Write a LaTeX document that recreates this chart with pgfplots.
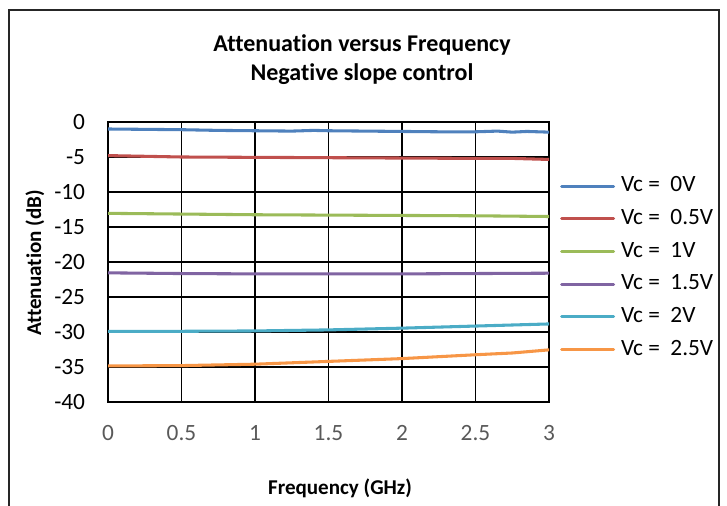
\documentclass[border=0pt]{standalone}
\usepackage{fontspec}
\setmainfont[Ligatures=NoCommon]{Carlito}
\usepackage{pgfplots}
\pgfplotsset{compat=1.18}

\definecolor{cBlue}{HTML}{4F81BD}
\definecolor{cRed}{HTML}{C0504D}
\definecolor{cGreen}{HTML}{9BBB59}
\definecolor{cPurple}{HTML}{8064A2}
\definecolor{cAqua}{HTML}{4BACC6}
\definecolor{cOrange}{HTML}{F79646}
\definecolor{tickgray}{HTML}{595959}

\pgfplotsset{
    excel/.style={
        line width=2.3pt, line join=round, line cap=round, mark=none
    }
}

\begin{document}
\begin{tikzpicture}
\useasboundingbox (0,0) rectangle (545.25pt,379.5pt);
% outer chart frame (bottom edge falls off the picture)
\draw[line width=1pt, black!85] (6.75pt,-2pt) -- (6.75pt,372pt) -- (539.25pt,372pt) -- (539.25pt,-2pt);

\begin{axis}[
    at={(81pt,78pt)}, anchor=south west,
    scale only axis, width=330.75pt, height=210pt,
    xmin=0, xmax=3, ymin=-40, ymax=0,
    xtick={0,0.5,...,3}, ytick={-40,-35,...,0},
    grid=major,
    major grid style={black, line width=1.3pt},
    axis line style={black, line width=1.4pt},
    major tick length=0pt,
    /pgf/number format/assume math mode=true,
    xticklabel style={font=\fontsize{17.5}{19}\selectfont, text=tickgray, anchor=center, yshift=-23.5pt},
    yticklabel style={font=\fontsize{17.5}{19}\selectfont, anchor=east, inner sep=0pt, xshift=-17pt},
    legend cell align=left,
    legend style={
        at={(1.025,0.808)}, anchor=north west,
        draw=none, fill=none, inner sep=0pt, outer sep=0pt,
        font=\fontsize{17.5}{19}\selectfont,
        row sep=9pt,
        nodes={inner xsep=0pt, inner ysep=0pt, text height=12pt, text depth=3.5pt},
        /tikz/every odd column/.style={column sep=4.5pt},
    },
    legend image code/.code={\draw[#1, line cap=round] (0pt,0pt) -- (39pt,0pt);},
]
\addplot[excel, cBlue] coordinates {
    (0,-1.0) (0.25,-1.05) (0.5,-1.1) (0.75,-1.2) (1,-1.25) (1.25,-1.3) (1.4,-1.2)
    (1.5,-1.25) (1.75,-1.3) (2,-1.35) (2.25,-1.4) (2.5,-1.4) (2.65,-1.3)
    (2.75,-1.45) (2.85,-1.35) (3,-1.45)};
\addplot[excel, cRed] coordinates {
    (0,-4.8) (0.5,-5.0) (1,-5.05) (1.5,-5.1) (2,-5.15) (2.5,-5.2) (2.75,-5.2) (3,-5.35)};
\addplot[excel, cGreen] coordinates {
    (0,-13.05) (0.5,-13.15) (1,-13.25) (1.5,-13.3) (2,-13.35) (2.5,-13.4) (3,-13.5)};
\addplot[excel, cPurple] coordinates {
    (0,-21.55) (0.5,-21.65) (1,-21.7) (1.5,-21.7) (2,-21.7) (2.5,-21.65) (3,-21.6)};
\addplot[excel, cAqua] coordinates {
    (0,-29.9) (0.5,-29.9) (1,-29.85) (1.5,-29.7) (2,-29.45) (2.5,-29.15) (3,-28.85)};
\addplot[excel, cOrange] coordinates {
    (0,-34.85) (0.5,-34.8) (1,-34.6) (1.5,-34.2) (2,-33.8) (2.5,-33.25) (2.75,-33.0) (3,-32.55)};
\legend{Vc =\ \ 0V, Vc =\ \ 0.5V, Vc =\ \ 1V, Vc =\ \ 1.5V, Vc =\ \ 2V, Vc =\ \ 2.5V}
\end{axis}

\node[anchor=base, font=\bfseries\fontsize{18}{21}\selectfont] at (271.5pt,340.5pt) {Attenuation versus Frequency};
\node[anchor=base, font=\bfseries\fontsize{18}{21}\selectfont] at (271.5pt,318.75pt) {Negative slope control};
\node[anchor=base, font=\bfseries\fontsize{15.8}{18}\selectfont] at (255pt,8.25pt) {Frequency (GHz)};
\node[anchor=base, rotate=90, font=\bfseries\fontsize{15.8}{18}\selectfont] at (30.75pt,182.25pt) {Attenuation (dB)};
\end{tikzpicture}
\end{document}
